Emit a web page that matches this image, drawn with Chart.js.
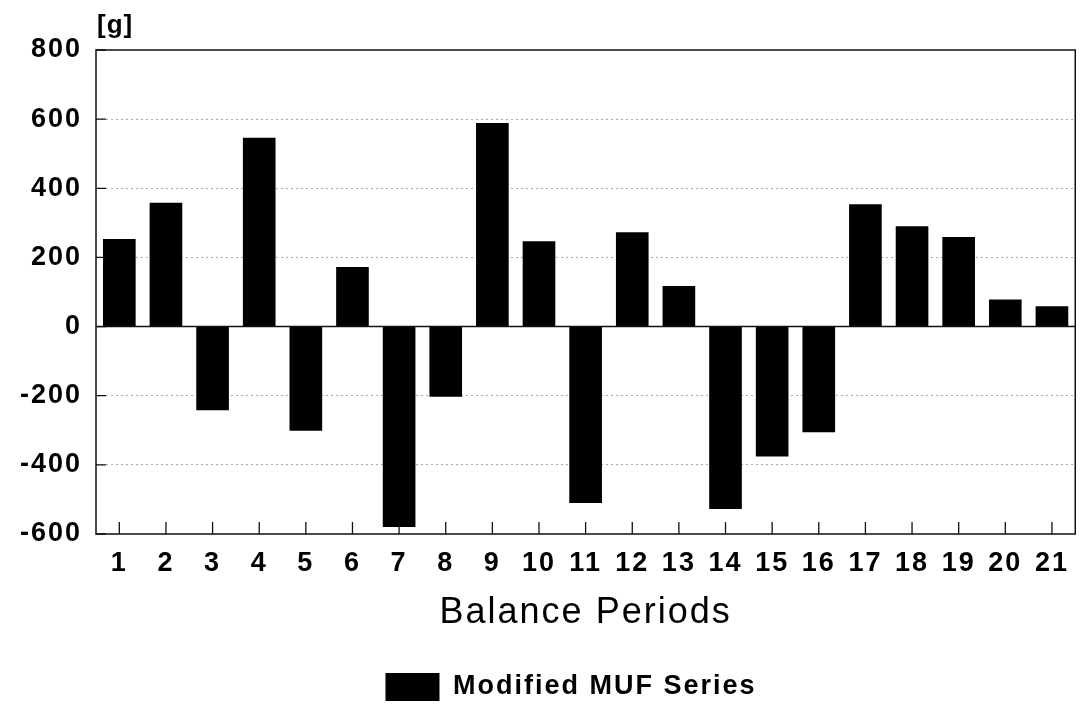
<!DOCTYPE html>
<html>
<head>
<meta charset="utf-8">
<script src="https://cdn.jsdelivr.net/npm/chart.js@4/dist/chart.umd.min.js"></script>
<style>
  html, body { margin: 0; padding: 0; background: #fff; }
  #wrap { width: 1082px; height: 706px; }
</style>
</head>
<body>
<div id="wrap"><canvas id="mufChart" width="1082" height="706"></canvas></div>
<script>
// balance periods 1..21
const periods = ['1', '2', '3', '4', '5', '6', '7', '8', '9', '10', '11',
                 '12', '13', '14', '15', '16', '17', '18', '19', '20', '21'];
// modified MUF values in grams
const mufValues = [253, 358, -242, 546, -301, 172, -580, -203, 589, 247, -510,
                   273, 117, -528, -376, -306, 354, 290, 259, 78, 59];
const yTicks = [-600, -400, -200, 0, 200, 400, 600, 800];

const FONT = "'Liberation Sans', Arial, sans-serif";

// wider letter spacing like the printed figure; canvas state is reset on resize
const spacingPlugin = {
    id: 'spacing',
    beforeUpdate(chart) { chart.ctx.letterSpacing = '2px'; },
    beforeDraw(chart) { chart.ctx.letterSpacing = '2px'; },
    afterLayout(chart) {
        // legend sits a little right of the canvas centre and a bit lower
        const lg = chart.legend;
        lg.left += 31; lg.right += 31;
        lg.top += 5; lg.bottom += 5;
    }
};

// frame, zero line, inward tick marks and the unit label
const framePlugin = {
    id: 'frame',
    afterDatasetsDraw(chart) {
        const { ctx, chartArea: a, scales: { x, y } } = chart;
        ctx.save();
        ctx.strokeStyle = '#111';
        ctx.lineWidth = 1.5;
        // zero line
        const y0 = y.getPixelForValue(0);
        ctx.beginPath();
        ctx.moveTo(a.left, y0);
        ctx.lineTo(a.right, y0);
        ctx.stroke();
        // box
        ctx.strokeRect(a.left, a.top, a.right - a.left, a.bottom - a.top);
        // inward ticks
        ctx.lineWidth = 1.3;
        ctx.beginPath();
        y.ticks.forEach((t, i) => {
            const py = y.getPixelForTick(i);
            ctx.moveTo(a.left, py);
            ctx.lineTo(a.left + 10, py);
        });
        x.ticks.forEach((t, i) => {
            const px = x.getPixelForTick(i);
            ctx.moveTo(px, a.bottom);
            ctx.lineTo(px, a.bottom - 12);
        });
        ctx.stroke();
        // unit
        ctx.fillStyle = '#000';
        ctx.font = 'bold 26px ' + FONT;
        ctx.letterSpacing = '1px';
        ctx.textAlign = 'left';
        ctx.textBaseline = 'alphabetic';
        ctx.fillText('[g]', a.left + 1, 33);
        ctx.restore();
    }
};

new Chart(document.getElementById('mufChart'), {
    type: 'bar',
    data: {
        labels: periods,
        datasets: [{
            label: 'Modified MUF Series',
            data: mufValues,
            backgroundColor: '#000',
            borderWidth: 0,
            barPercentage: 0.7,
            categoryPercentage: 1.0
        }]
    },
    options: {
        responsive: false,
        animation: false,
        layout: { padding: { left: 0, right: 2, top: 50, bottom: 0 } },
        plugins: {
            tooltip: { enabled: false },
            legend: {
                position: 'bottom',
                labels: {
                    color: '#000',
                    font: { family: FONT, size: 27, weight: 'bold' },
                    boxWidth: 54,
                    boxHeight: 28,
                    padding: 12
                }
            }
        },
        scales: {
            x: {
                grid: { display: false, drawTicks: false },
                border: { display: false },
                ticks: {
                    color: '#000',
                    font: { family: FONT, size: 27, weight: 'bold' },
                    padding: 13,
                    maxRotation: 0
                },
                title: {
                    display: true,
                    text: 'Balance Periods',
                    color: '#000',
                    font: { family: FONT, size: 36 },
                    padding: { top: 6, bottom: 21 }
                },
                afterFit(s) { s.height = 122; }
            },
            y: {
                min: -600,
                max: 800,
                afterBuildTicks(s) { s.ticks = yTicks.map(v => ({ value: v })); },
                grid: {
                    drawTicks: false,
                    color: ctx => (ctx.tick && [200, 400, 600, -200, -400].includes(ctx.tick.value)) ? '#a8a8a8' : 'rgba(0,0,0,0)',
                    lineWidth: 1
                },
                border: { display: false, dash: [2, 3] },
                ticks: {
                    color: '#000',
                    font: { family: FONT, size: 27, weight: 'bold' },
                    padding: 14
                },
                afterFit(s) { s.width = 96; }
            }
        }
    },
    plugins: [spacingPlugin, framePlugin]
});
</script>
</body>
</html>
